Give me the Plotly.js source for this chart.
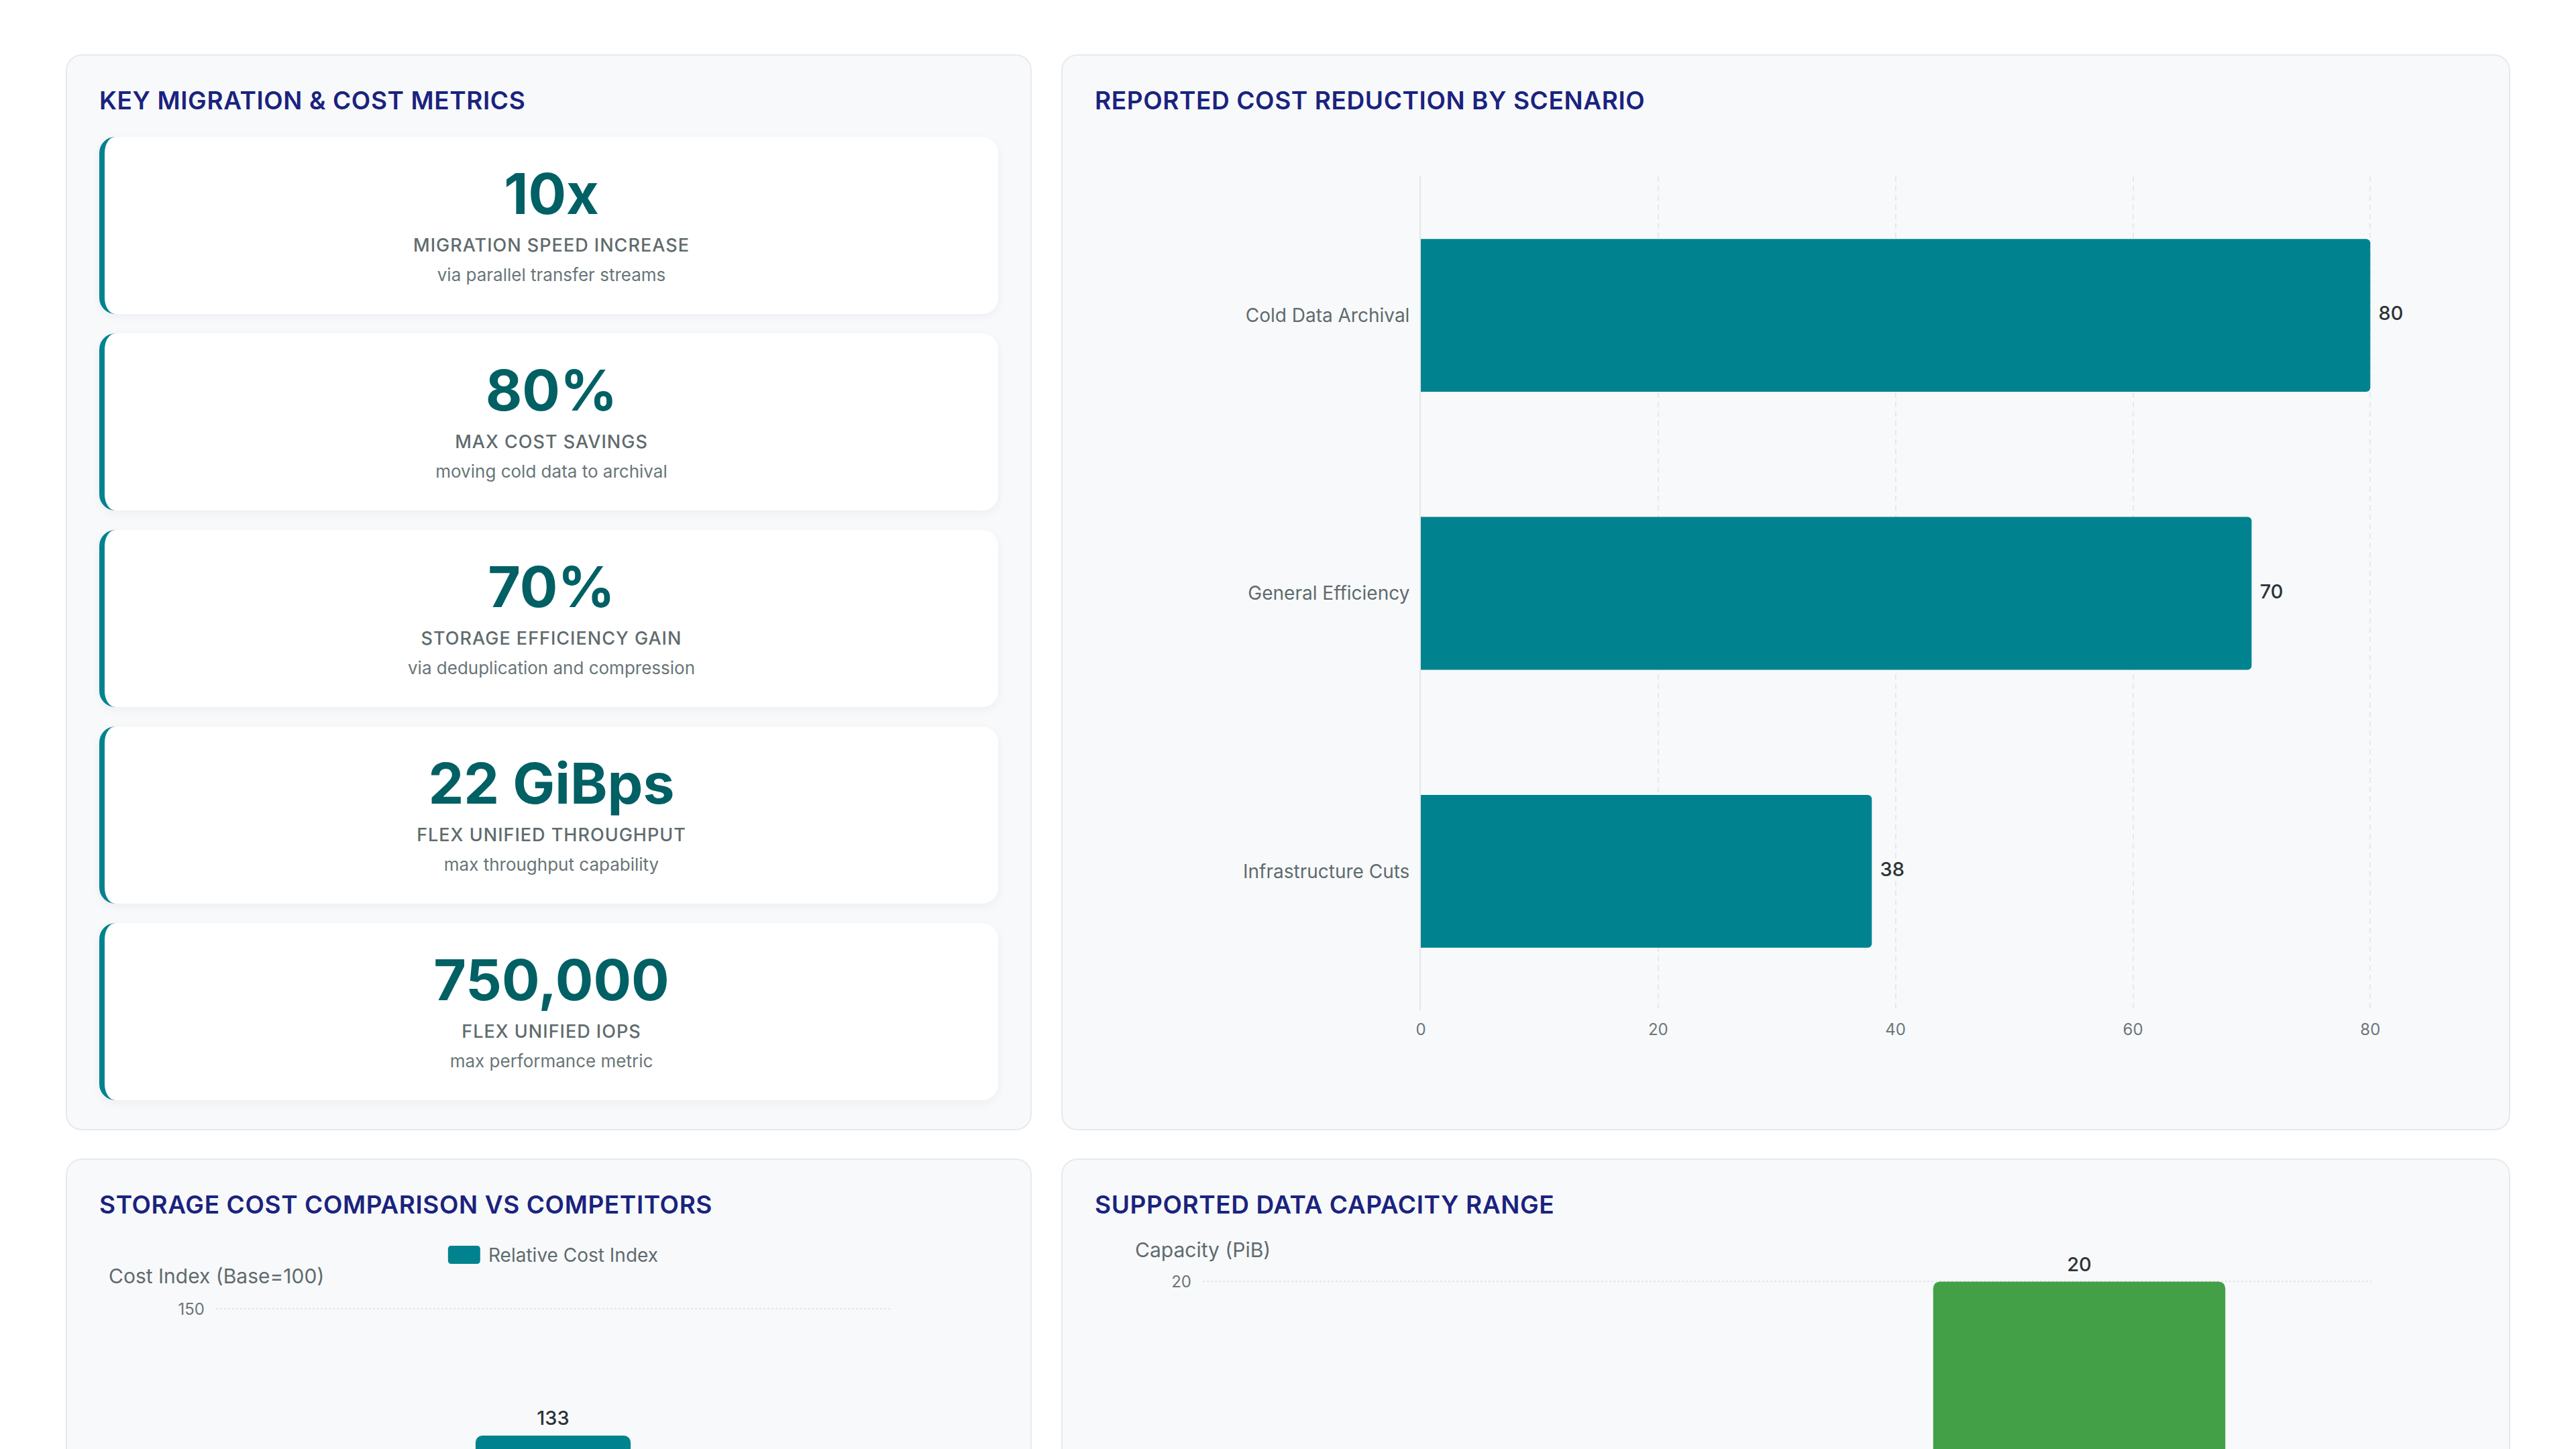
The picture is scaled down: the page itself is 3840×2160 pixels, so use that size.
<!DOCTYPE html>
<html>
<head>
<meta charset="utf-8">
<script src="https://cdn.plot.ly/plotly-3.0.1.min.js"></script>
<style>
  html, body { margin: 0; padding: 0; overflow: hidden; background: #ffffff; }
  body { font-family: Inter, "Open Sans", sans-serif; padding: 81px 98px; }
  .grid {
    display: grid;
    grid-template-columns: 1440px 2160px;
    grid-template-rows: 1604px 1900px;
    column-gap: 44px;
    row-gap: 42px;
  }
  .panel {
    background: #f8f9fb;
    border: 2px solid #e6e9ee;
    border-radius: 24px;
    padding: 45px 48px 43px 48px;
    box-sizing: border-box;
  }
  .panel h2 {
    margin: 0 0 32px 0;
    font-size: 37px;
    line-height: 44px;
    font-weight: 600;
    letter-spacing: 0.6px;
    color: #1a237e;
  }
  .card {
    background: #ffffff;
    border-left: 8px solid #00838f;
    border-radius: 24px;
    height: 264px;
    box-sizing: border-box;
    padding-top: 37px;
    margin-bottom: 29px;
    text-align: center;
    box-shadow: 0 4px 14px rgba(30, 40, 60, 0.05);
  }
  .card .num { font-size: 84px; line-height: 96px; font-weight: 700; color: #006064; }
  .card .lbl { font-size: 27px; line-height: 34px; margin-top: 12px; color: #5f6b6d; letter-spacing: 1px; font-weight: 500; }
  .card .note { font-size: 26px; line-height: 30px; margin-top: 12px; color: #687578; }
</style>
</head>
<body>
<div class="grid">
  <div class="panel">
    <h2>KEY MIGRATION &amp; COST METRICS</h2>
    <div id="cards"></div>
  </div>
  <div class="panel">
    <h2>REPORTED COST REDUCTION BY SCENARIO</h2>
    <div id="scenarioChart"></div>
  </div>
  <div class="panel">
    <h2>STORAGE COST COMPARISON VS COMPETITORS</h2>
    <div id="costChart"></div>
  </div>
  <div class="panel">
    <h2>SUPPORTED DATA CAPACITY RANGE</h2>
    <div id="capacityChart"></div>
  </div>
</div>

<script>
// KPI cards
const metricValues = ['10x', '80%', '70%', '22 GiBps', '750,000'];
const metricLabels = ['MIGRATION SPEED INCREASE', 'MAX COST SAVINGS', 'STORAGE EFFICIENCY GAIN',
                      'FLEX UNIFIED THROUGHPUT', 'FLEX UNIFIED IOPS'];
const metricNotes = ['via parallel transfer streams', 'moving cold data to archival',
                     'via deduplication and compression', 'max throughput capability',
                     'max performance metric'];

// cost reduction by scenario (%)
const scenarioNames = ['Cold Data Archival', 'General Efficiency', 'Infrastructure Cuts'];
const scenarioReduction = [80, 70, 38];

// relative cost index, base = 100
const costVendors = ['This Platform', 'Competitor A', 'Competitor B'];
const costIndex = [100, 133, 118];

// capacity range (PiB)
const capacityLabels = ['Minimum', 'Maximum'];
const capacityPiB = [1, 20];
const capacityColors = ['#81c784', '#43a047'];

const TEAL = '#00838f';
const FONT = 'Inter, "Open Sans", sans-serif';

// build cards
const cardsDiv = document.getElementById('cards');
metricValues.forEach((v, i) => {
    const card = document.createElement('div');
    card.className = 'card';
    card.innerHTML = `<div class="num">${v}</div>
        <div class="lbl">${metricLabels[i]}</div>
        <div class="note">${metricNotes[i]}</div>`;
    cardsDiv.appendChild(card);
});
cardsDiv.lastChild.style.marginBottom = '0';

const config = { displayModeBar: false, staticPlot: true };

// value labels: invisible marker pushes the text off the bar end
function valueLabels(x, y, pos, vals, pad) {
    return {
        type: 'scatter',
        mode: 'markers+text',
        x: x,
        y: y,
        text: vals.map(String),
        textposition: pos,
        marker: { size: pad, opacity: 0 },
        textfont: { size: 29, color: '#2d3436', weight: 500 },
        cliponaxis: false,
        hoverinfo: 'skip'
    };
}

// horizontal bar chart
Plotly.newPlot('scenarioChart', [
    {
        type: 'bar',
        orientation: 'h',
        x: scenarioReduction,
        y: scenarioNames,
        marker: { color: TEAL, cornerradius: 6 },
        hoverinfo: 'skip'
    },
    valueLabels(scenarioReduction, scenarioNames, 'middle right', scenarioReduction, 18)
], {
    width: 2060,
    height: 1436,
    margin: { l: 486, r: 156, t: 59, b: 134 },
    paper_bgcolor: 'rgba(0,0,0,0)',
    plot_bgcolor: 'rgba(0,0,0,0)',
    font: { family: FONT },
    showlegend: false,
    bargap: 0.45,
    xaxis: {
        range: [0, 80.15],
        tick0: 0,
        dtick: 20,
        showgrid: true,
        gridcolor: '#e6e8ec',
        gridwidth: 2,
        griddash: '8px,6px',
        zeroline: false,
        showline: false,
        ticks: '',
        ticklabelstandoff: 12,
        tickfont: { size: 24, color: '#6b7779' }
    },
    yaxis: {
        type: 'category',
        range: [2.5, -0.5],
        showgrid: false,
        zeroline: false,
        showline: true,
        linecolor: '#e3e6ea',
        linewidth: 2,
        ticks: '',
        ticklabelstandoff: 9,
        tickfont: { size: 28, color: '#5f6b6d' }
    }
}, config);

// vertical bar chart: cost index
Plotly.newPlot('costChart', [
    {
        type: 'bar',
        x: costVendors,
        y: costIndex,
        name: 'Relative Cost Index',
        marker: { color: TEAL, cornerradius: 10 },
        hoverinfo: 'skip'
    },
    valueLabels(costVendors, costIndex, 'top center', costIndex, 12)
], {
    width: 1340,
    height: 1900,
    margin: { l: 174, r: 161, t: 98, b: 133 },
    paper_bgcolor: 'rgba(0,0,0,0)',
    plot_bgcolor: 'rgba(0,0,0,0)',
    font: { family: FONT },
    showlegend: false,
    bargap: 0.31,
    xaxis: {
        type: 'category',
        showgrid: false,
        zeroline: false,
        showline: false,
        ticks: '',
        tickfont: { size: 24, color: '#6b7779' }
    },
    yaxis: {
        range: [0, 150.3],
        tick0: 0,
        dtick: 30,
        showgrid: true,
        gridcolor: '#e3e6ea',
        gridwidth: 2,
        griddash: 'dot',
        zeroline: false,
        showline: false,
        ticks: '',
        ticklabelstandoff: 16,
        tickfont: { size: 24, color: '#6b7779' }
    },
    shapes: [{
        type: 'path',
        xref: 'paper', yref: 'paper',
        xsizemode: 'pixel', ysizemode: 'pixel',
        xanchor: 0.368, yanchor: 1,
        path: 'M -19,64 L 19,64 Q 24,64 24,69 L 24,86 Q 24,91 19,91 L -19,91 Q -24,91 -24,86 L -24,69 Q -24,64 -19,64 Z',
        fillcolor: TEAL,
        line: { width: 0 }
    }],
    annotations: [
        {
            text: 'Relative Cost Index',
            xref: 'paper', yref: 'paper',
            x: 0.368, y: 1, xshift: 34, yshift: 77,
            xanchor: 'left', yanchor: 'middle',
            showarrow: false,
            font: { size: 28, color: '#5f6b6d' }
        },
        {
            text: 'Cost Index (Base=100)',
            xref: 'paper', yref: 'paper',
            x: 0, y: 1, yshift: 46,
            xanchor: 'center', yanchor: 'middle',
            showarrow: false,
            font: { size: 30, color: '#5f6b6d' }
        }
    ]
}, config);

// vertical bar chart: capacity
Plotly.newPlot('capacityChart', [
    {
        type: 'bar',
        x: capacityLabels,
        y: capacityPiB,
        marker: { color: capacityColors, cornerradius: 10 },
        hoverinfo: 'skip'
    },
    valueLabels(capacityLabels, capacityPiB, 'top center', capacityPiB, 12)
], {
    width: 2060,
    height: 1900,
    margin: { l: 161, r: 157, t: 57, b: 134 },
    paper_bgcolor: 'rgba(0,0,0,0)',
    plot_bgcolor: 'rgba(0,0,0,0)',
    font: { family: FONT },
    showlegend: false,
    bargap: 0.5,
    xaxis: {
        type: 'category',
        showgrid: false,
        zeroline: false,
        showline: false,
        ticks: '',
        tickfont: { size: 24, color: '#6b7779' }
    },
    yaxis: {
        range: [0, 20.04],
        tick0: 0,
        dtick: 5,
        showgrid: true,
        gridcolor: '#e3e6ea',
        gridwidth: 2,
        griddash: 'dot',
        zeroline: false,
        showline: false,
        ticks: '',
        ticklabelstandoff: 16,
        tickfont: { size: 24, color: '#6b7779' }
    },
    annotations: [{
        text: 'Capacity (PiB)',
        xref: 'paper', yref: 'paper',
        x: 0, y: 1, yshift: 44,
        xanchor: 'center', yanchor: 'middle',
        showarrow: false,
        font: { size: 30, color: '#5f6b6d' }
    }]
}, config);
</script>
</body>
</html>
